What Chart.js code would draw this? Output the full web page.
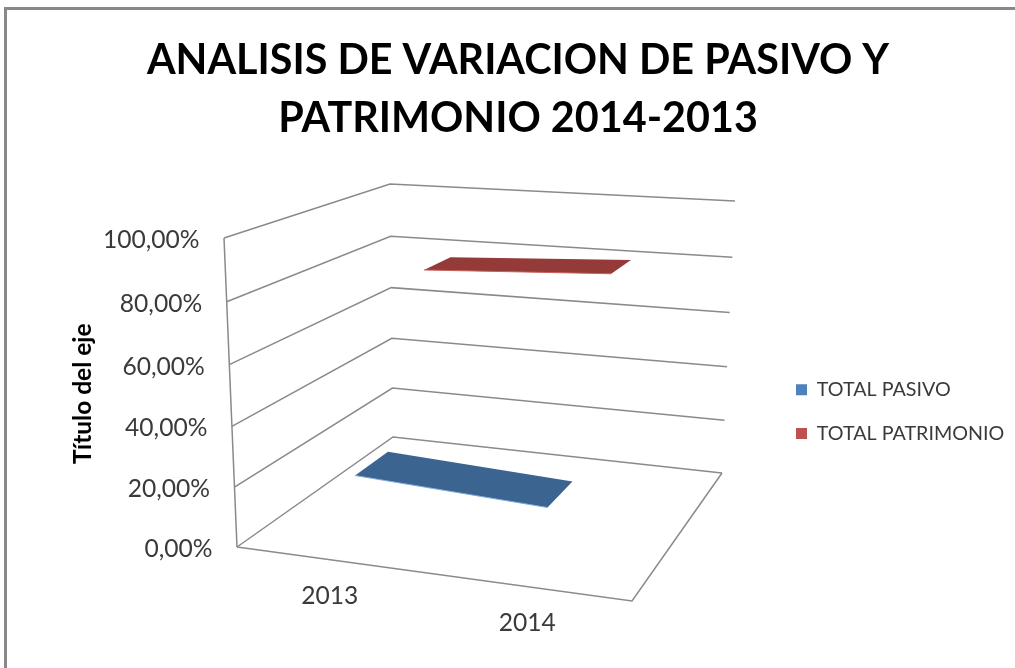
<!DOCTYPE html>
<html><head><meta charset="utf-8">
<style>html,body{margin:0;padding:0;background:#fff;overflow:hidden}canvas{display:block}</style>
<script src="https://cdn.jsdelivr.net/npm/chart.js@4"></script>
</head><body><canvas id="c" width="1015" height="668"></canvas>
<script>
const categories = ['2013', '2014'];
const totalPasivo = [0.20, 0.17];
const totalPatrimonio = [0.808, 0.84];
const seriesNames = ['TOTAL PASIVO', 'TOTAL PATRIMONIO'];
const titleLines = ['ANALISIS DE VARIACION DE PASIVO Y', 'PATRIMONIO 2014-2013'];
const yAxisTitle = 'Título del eje';
const FONT = 'Lato, Carlito, sans-serif';

// Eight corners of the drawn 3D box: [front/back][left/right][floor/top]
const BOX = {
  flb:[237,547], frb:[632,601], blb:[393,437], brb:[722,473],
  flt:[224,238], frt:[645,268], blt:[390,184], brt:[735,201]
};
function project(u,v,w){
  const mix=(a,b,t)=>[a[0]+(b[0]-a[0])*t,a[1]+(b[1]-a[1])*t];
  const h=v-0.04*v*(1-v); // slight perspective foreshortening of the height
  const fb=mix(BOX.flb,BOX.frb,u), bb=mix(BOX.blb,BOX.brb,u);
  const ft=mix(BOX.flt,BOX.frt,u), bt=mix(BOX.blt,BOX.brt,u);
  return mix(mix(fb,bb,w),mix(ft,bt,w),h);
}
// depth band and sideways correction of each series ribbon inside the box
const RIBBONS = [
  {near:0.22, far:0.45, du:-0.027, fill:'#3C6491', edge:'#7FABDF'},
  {near:0.565, far:0.75, du:0.03,  fill:'#943A38', edge:'#C9605C'}
];
const fmtPct = v => (v*100).toFixed(2).replace('.',',')+'%';

const box3d = {
  id:'box3d',
  afterLayout(chart){
    const l=chart.legend;
    const shiftY=18, left=772;
    const w=l.right-l.left;
    l.left=left; l.right=left+w; l.top+=shiftY; l.bottom+=shiftY;
  },
  beforeDraw(chart){
    const c=chart.ctx; c.save();
    c.fillStyle='#fff'; c.fillRect(0,0,chart.width,chart.height);
    c.fillStyle='#888888';
    c.fillRect(4,7,chart.width-4,3);
    c.fillRect(4,7,3,chart.height-7);
    c.restore();
  },
  afterDatasetsDraw(chart){
    const c=chart.ctx, ys=chart.scales.y, xs=chart.scales.x, a=chart.chartArea;
    const nv=val=>(a.bottom-ys.getPixelForValue(val))/(a.bottom-a.top);
    const nu=px=>(px-a.left)/(a.right-a.left);
    c.save();
    c.strokeStyle='#8A8A8A'; c.lineWidth=1.5; c.lineJoin='miter';
    const poly=(pts,close)=>{c.beginPath();pts.forEach((p,i)=>i?c.lineTo(p[0],p[1]):c.moveTo(p[0],p[1]));if(close)c.closePath();};
    ys.ticks.forEach(t=>{
      const v=nv(t.value);
      poly([project(0,v,0),project(0,v,1),project(1,v,1)]);c.stroke();
    });
    poly([project(0,0,0),project(1,0,0),project(1,0,1)]);c.stroke();
    poly([project(0,0,0),project(0,1,0)]);c.stroke();
    // ribbons
    chart.data.datasets.forEach((ds,i)=>{
      const pts=chart.getDatasetMeta(i).data, r=RIBBONS[i];
      const front=[],back=[];
      pts.forEach(p=>{
        const u=nu(p.x)+r.du, v=(a.bottom-p.y)/(a.bottom-a.top);
        front.push(project(u,v,r.near)); back.push(project(u,v,r.far));
      });
      poly(front.concat(back.slice().reverse()),true);
      c.fillStyle=r.fill; c.fill();
      poly(front); c.strokeStyle=r.edge; c.lineWidth=1; c.stroke();
    });
    // tick labels
    c.fillStyle='#3A3A3A'; c.font='24.6px '+FONT; c.textBaseline='middle';
    c.textAlign='right';
    ys.ticks.forEach(t=>{
      const p=project(0,nv(t.value),0);
      c.fillText(t.label,p[0]-24.5,p[1]+2);
    });
    c.textAlign='center';
    xs.ticks.forEach((t,i)=>{
      const p=project(nu(xs.getPixelForTick(i)),0,0);
      c.fillText(t.label,p[0]-6,p[1]+36);
    });
    c.restore();
  }
};

new Chart(document.getElementById('c'),{
  type:'line',
  data:{labels:categories,datasets:[
    {label:seriesNames[0],data:totalPasivo,backgroundColor:'#4F81BD',borderColor:'#4F81BD',borderWidth:0,showLine:false,pointRadius:0},
    {label:seriesNames[1],data:totalPatrimonio,backgroundColor:'#C0504D',borderColor:'#C0504D',borderWidth:0,showLine:false,pointRadius:0}
  ]},
  options:{
    responsive:false,animation:false,
    layout:{padding:{left:21,right:0,top:0,bottom:119}},
    plugins:{
      tooltip:{enabled:false},
      title:{display:true,text:titleLines,color:'#000',font:{family:FONT,size:41.3,weight:'bold',lineHeight:1.42},padding:{top:31,bottom:90}},
      legend:{position:'right',fullSize:false,labels:{font:{family:FONT,size:19.7},color:'#3A3A3A',boxWidth:11,boxHeight:11,padding:24}}
    },
    scales:{
      x:{display:false,offset:true},
      y:{min:0,max:1,ticks:{stepSize:0.2,display:false,callback:fmtPct},grid:{display:false},border:{display:false},
         title:{display:true,text:yAxisTitle,color:'#000',font:{family:FONT,size:24.5,weight:'bold'},padding:{top:47,bottom:0}},
         afterFit(s){s.width=203;}}
    }
  },
  plugins:[box3d]
});
</script></body></html>
